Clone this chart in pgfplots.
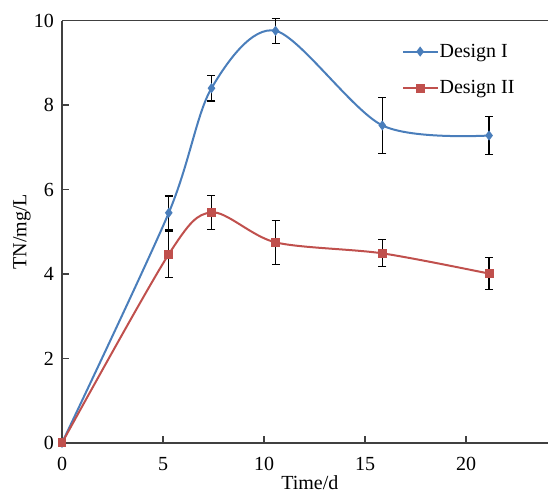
\documentclass[border=0pt]{standalone}
\usepackage{fontspec}
\setmainfont{Liberation Serif}
\usepackage{pgfplots}
\pgfplotsset{compat=1.18}
\definecolor{lineBlue}{HTML}{4A7EBB}
\definecolor{lineRed}{HTML}{C0504D}
\definecolor{axisGray}{HTML}{404040}

\begin{document}
\begin{tikzpicture}[font=\fontsize{15}{18}\selectfont]
  \begin{axis}[
      scale only axis, width=364.5pt, height=316.7pt,
      xmin=0, xmax=22.76, ymin=0, ymax=10,
      axis x line*=box, axis y line*=left,
      axis line style={axisGray, line width=1.1pt},
      xtick={0,4.73,9.46,14.19,18.92}, xticklabels={0,5,10,15,20},
      ytick={0,2,4,6,8,10},
      xtick pos=bottom, ytick pos=left,
      tick align=inside, major tick length=5pt,
      tick style={axisGray, line width=1.1pt},
      /pgf/number format/assume math mode=true,
      xticklabel style={yshift=-7pt},
      yticklabel style={xshift=-2.5pt},
      xlabel={Time/d}, ylabel={TN/mg/L},
      xlabel style={at={(axis description cs:0.51,-0.094)}, anchor=center},
      ylabel style={at={(axis description cs:-0.0823,0.5)}, anchor=center},
      clip=false,
      legend style={at={(axis description cs:0.691,0.955)}, anchor=north west,
        draw=none, fill=none, row sep=14pt,
        nodes={inner sep=1pt, anchor=west}},
      legend cell align=left,
      legend image code/.code={\draw[#1, mark repeat=2, mark phase=2]
        plot coordinates {(0cm,0cm) (0.45cm,0cm) (0.9cm,0cm)};},
      error bars/error bar style={black, line width=0.9pt},
      error bars/error mark options={rotate=90, black, mark size=3pt, line width=0.9pt},
    ]
    \addplot[lineBlue, line width=1.5pt, smooth, mark=diamond*, mark size=2.6pt,
      mark options={fill=lineBlue},
      error bars/.cd, y dir=both, y explicit]
      coordinates {
        (0,0) +- (0,0)
        (5,5.45) +- (0,0.40)
        (7,8.40) +- (0,0.30)
        (10,9.76) +- (0,0.30)
        (15,7.52) +- (0,0.66)
        (20,7.28) +- (0,0.45)
      };
    \addlegendentry{Design I}
    \addplot[lineRed, line width=1.5pt, smooth, mark=square*, mark size=2.6pt,
      mark options={fill=lineRed},
      error bars/.cd, y dir=both, y explicit]
      coordinates {
        (0,0) +- (0,0)
        (5,4.47) +- (0,0.55)
        (7,5.46) +- (0,0.40)
        (10,4.75) +- (0,0.52)
        (15,4.49) +- (0,0.32)
        (20,4.01) +- (0,0.38)
      };
    \addlegendentry{Design II}
  \end{axis}
  \pgfresetboundingbox
  \path[use as bounding box] ([shift={(-46.5pt,-38.25pt)}]current axis.south west)
    rectangle ([shift={(0pt,15.5pt)}]current axis.north east);
\end{tikzpicture}
\end{document}
